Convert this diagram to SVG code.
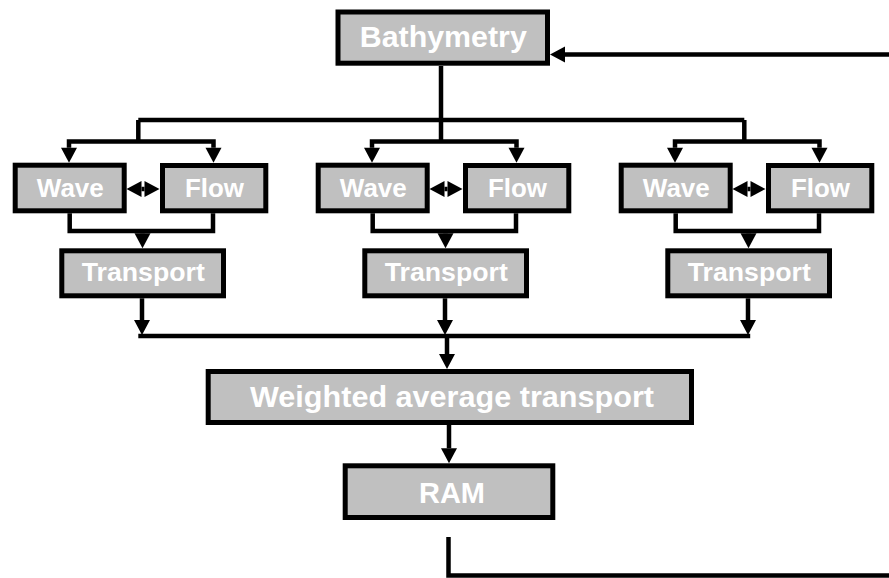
<svg xmlns="http://www.w3.org/2000/svg" width="889" height="578" viewBox="0 0 889 578">
<style>
.box{fill:#c0c0c0;stroke:#000;stroke-width:5}
.t{font-family:"Liberation Sans",Arial,sans-serif;font-weight:bold;fill:#fff;text-anchor:middle}
.c{fill:none;stroke:#000;stroke-width:4.5;stroke-linejoin:miter}
.a{marker-end:url(#ah)}
.aa{marker-start:url(#ah);marker-end:url(#ah)}
</style>
<defs>
<marker id="ah" markerUnits="userSpaceOnUse" markerWidth="15" markerHeight="16" refX="0" refY="8" orient="auto-start-reverse" overflow="visible">
<path d="M0,0 L15,8 L0,16 Z" fill="#000"/>
</marker>
</defs>
<rect width="889" height="578" fill="#fff"/>
<g id="connectors">
<path class="c a" d="M889,54.5 H565"/>
<path class="c" d="M441,66 V141.5"/>
<path class="c" d="M138.3,120 H744.3"/>
<path class="c" d="M138.3,120 V141.5"/>
<path class="c" d="M744.3,120 V141.5"/>
<path class="c aa" d="M69,147.7 V141.5 H213.5 V147.7"/>
<path class="c aa" d="M372,147.7 V141.5 H516.5 V147.7"/>
<path class="c aa" d="M675,147.7 V141.5 H819.5 V147.7"/>
<path class="c aa" d="M141.5,189 H144.5"/>
<path class="c aa" d="M444.5,189 H447.5"/>
<path class="c aa" d="M747.5,189 H750.5"/>
<path class="c" d="M69.7,213.3 V231 H213 V213.3"/>
<path class="c" d="M372.7,213.3 V231 H516 V213.3"/>
<path class="c" d="M675.7,213.3 V231 H819 V213.3"/>
<path class="c a" d="M142.5,231 V233.3"/>
<path class="c a" d="M445.5,231 V233.3"/>
<path class="c a" d="M748.5,231 V233.3"/>
<path class="c a" d="M142,298.3 V320"/>
<path class="c a" d="M445,298.3 V320"/>
<path class="c a" d="M748,298.3 V320"/>
<path class="c" d="M138.3,336 H750.2"/>
<path class="c a" d="M447,336 V354"/>
<path class="c a" d="M449,425 V448.3"/>
<path class="c" d="M448.5,537 V575.5 H889"/>
</g>
<g id="bathymetry">
<rect class="box" x="338" y="12" width="209.5" height="51.2"/>
<text class="t" x="443.3" y="46.5" font-size="29" textLength="167" lengthAdjust="spacingAndGlyphs">Bathymetry</text>
</g>
<g id="wave1">
<rect class="box" x="15.2" y="165.2" width="109" height="45.6"/>
<text class="t" x="70.3" y="197" font-size="26" textLength="67" lengthAdjust="spacingAndGlyphs">Wave</text>
</g>
<g id="flow1">
<rect class="box" x="162.5" y="165.5" width="103.3" height="45.3"/>
<text class="t" x="214.5" y="197" font-size="26" textLength="59" lengthAdjust="spacingAndGlyphs">Flow</text>
</g>
<g id="transport1">
<rect class="box" x="61.8" y="250.8" width="161.7" height="45"/>
<text class="t" x="143.3" y="280.5" font-size="26" textLength="123" lengthAdjust="spacingAndGlyphs">Transport</text>
</g>
<g id="wave2">
<rect class="box" x="318.2" y="165.2" width="109" height="45.6"/>
<text class="t" x="373.3" y="197" font-size="26" textLength="67" lengthAdjust="spacingAndGlyphs">Wave</text>
</g>
<g id="flow2">
<rect class="box" x="465.5" y="165.5" width="103.3" height="45.3"/>
<text class="t" x="517.5" y="197" font-size="26" textLength="59" lengthAdjust="spacingAndGlyphs">Flow</text>
</g>
<g id="transport2">
<rect class="box" x="364.8" y="250.8" width="161.7" height="45"/>
<text class="t" x="446.3" y="280.5" font-size="26" textLength="123" lengthAdjust="spacingAndGlyphs">Transport</text>
</g>
<g id="wave3">
<rect class="box" x="621.2" y="165.2" width="109" height="45.6"/>
<text class="t" x="676.3" y="197" font-size="26" textLength="67" lengthAdjust="spacingAndGlyphs">Wave</text>
</g>
<g id="flow3">
<rect class="box" x="768.5" y="165.5" width="103.3" height="45.3"/>
<text class="t" x="820.5" y="197" font-size="26" textLength="59" lengthAdjust="spacingAndGlyphs">Flow</text>
</g>
<g id="transport3">
<rect class="box" x="667.8" y="250.8" width="161.7" height="45"/>
<text class="t" x="749.3" y="280.5" font-size="26" textLength="123" lengthAdjust="spacingAndGlyphs">Transport</text>
</g>
<g id="weighted">
<rect class="box" x="208.2" y="371.5" width="483.3" height="51"/>
<text class="t" x="452" y="407" font-size="30" textLength="404" lengthAdjust="spacingAndGlyphs">Weighted average transport</text>
</g>
<g id="ram">
<rect class="box" x="345.2" y="465.8" width="207.6" height="51.7"/>
<text class="t" x="452" y="503" font-size="29" textLength="66" lengthAdjust="spacingAndGlyphs">RAM</text>
</g>
</svg>
